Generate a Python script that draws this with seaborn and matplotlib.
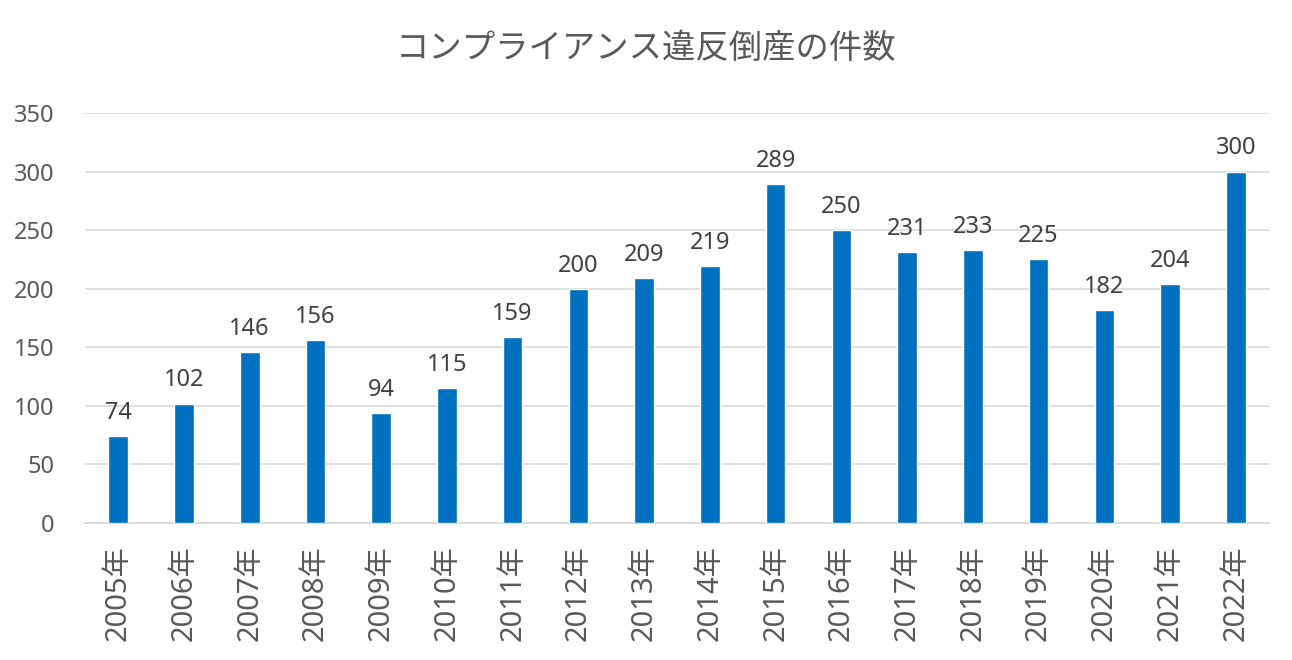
import pandas as pd
import matplotlib
matplotlib.use("Agg")
import matplotlib.pyplot as plt
import seaborn as sns

# data
years = ["2005年", "2006年", "2007年", "2008年", "2009年", "2010年", "2011年", "2012年", "2013年",
         "2014年", "2015年", "2016年", "2017年", "2018年", "2019年", "2020年", "2021年", "2022年"]
counts = [74, 102, 146, 156, 94, 115, 159, 200, 209, 219, 289, 250, 231, 233, 225, 182, 204, 300]

df = pd.DataFrame({"year": years, "count": counts})

sns.set_theme(style="white")
plt.rcParams['font.family'] = ['Noto Sans', 'Noto Sans CJK JP', 'DejaVu Sans']

fig = plt.figure(figsize=(12.92, 6.6), dpi=100)
ax = fig.add_axes([0.066, 0.2076, 0.916, 0.6212])

sns.barplot(data=df, x="year", y="count", color="#0070C0", saturation=1, width=0.3, ax=ax, zorder=3)

# value labels on top of the bars
for c in ax.containers:
    ax.bar_label(c, fontsize=17, color="#404040", padding=8)

ax.set_ylim(0, 350)
ax.set_yticks(range(0, 351, 50))
ax.set_xlim(-0.5, len(years) - 0.5)
ax.yaxis.grid(True, color="#D9D9D9", linewidth=1.2, zorder=0)
ax.set_axisbelow(True)
for s in ["top", "right", "left"]:
    ax.spines[s].set_visible(False)
ax.spines["bottom"].set_color("#D9D9D9")
ax.spines["bottom"].set_linewidth(1.2)
ax.tick_params(axis="both", length=0)
ax.tick_params(axis="y", labelsize=17, labelcolor="#595959", pad=22)
ax.tick_params(axis="x", labelsize=21, labelcolor="#595959", pad=16, rotation=90)
ax.set_xlabel("")
ax.set_ylabel("")

fig.suptitle("コンプライアンス違反倒産の件数", fontsize=24, color="#595959", x=0.5, y=0.95)

fig.savefig("out.png", dpi=100)
